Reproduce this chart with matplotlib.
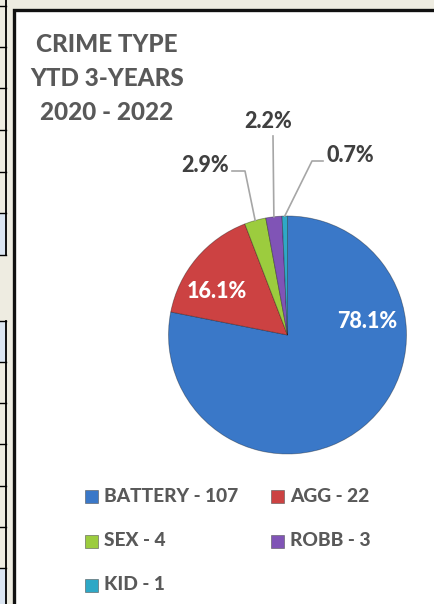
import numpy as np
import matplotlib
matplotlib.use("Agg")
import matplotlib.pyplot as plt
from matplotlib.patches import Rectangle

# dados
categorias = ["BATTERY", "AGG", "SEX", "ROBB", "KID"]
valores = [107, 22, 4, 3, 1]
cores = ["#3a78c8", "#cc4242", "#9ccc3e", "#8054b6", "#2ea8c6"]
titulo = "CRIME TYPE\nYTD 3-YEARS\n2020 - 2022"

plt.rcParams["font.family"] = ["Lato", "DejaVu Sans"]
PESO = 900

W, H = 434, 604
fig = plt.figure(figsize=(W / 100, H / 100), dpi=100, facecolor="#eeece1")

# eixo de fundo em pixels
bg = fig.add_axes([0, 0, 1, 1])
bg.set_xlim(0, W)
bg.set_ylim(H, 0)
bg.axis("off")

# fragmento da tabela a esquerda
for y0, y1 in [(213, 255), (321, 362), (568, 610)]:
    bg.add_patch(Rectangle((-2, y0), 8, y1 - y0, facecolor="#dbe5f1", edgecolor="none"))
bg.plot([6, 6], [0, 255], color="black", lw=1.3)
bg.plot([6, 6], [321, 604], color="black", lw=1.3)
for y in [6, 47, 88, 130, 172, 213, 255, 321, 362, 403, 444, 486, 527, 568]:
    bg.plot([-2, 6], [y, y], color="black", lw=1.0)

# area do grafico
bg.add_patch(Rectangle((14, 10), W, H, facecolor="white", edgecolor="#111111", lw=2.4))

# titulo
gris = "#595959"
for i, linha in enumerate(titulo.split("\n")):
    bg.text(107, 45 + i * 33.5, linha, ha="center", va="center", fontsize=17.5,
            color=gris, fontweight=PESO)

# legenda
leg_pos = [(85, 496), (271, 496), (85, 541), (271, 541), (85, 585)]
for (x, y), cat, val, cor in zip(leg_pos, categorias, valores, cores):
    bg.add_patch(Rectangle((x, y - 6.5), 13, 13, facecolor=cor, edgecolor="#555555", lw=0.4))
    bg.text(x + 19, y, f"{cat} - {val}", ha="left", va="center", fontsize=13.8,
            color=gris, fontweight=PESO)

# pizza
cx, cy, R = 287.5, 335, 119
ax = fig.add_axes([(cx - R) / W, (H - cy - R) / H, 2 * R / W, 2 * R / H])
wedges, _ = ax.pie(valores, colors=cores, startangle=90, counterclock=False,
                   wedgeprops=dict(edgecolor=(0, 0, 0, 0.35), linewidth=0.6))
ax.set_xlim(-1, 1)
ax.set_ylim(-1, 1)
ax.set_aspect("equal")
ax.axis("off")

total = sum(valores)
pcts = [v / total * 100 for v in valores]

def px(x, y):
    return (x - cx) / R, (cy - y) / R

# rotulos internos
for i, (x, y) in [(0, (367, 321)), (1, (217, 292))]:
    ax.text(*px(x, y), f"{pcts[i]:.1f}%", ha="center", va="center", fontsize=15.5,
            color="white", fontweight=PESO)

# rotulos externos com linhas guia
externos = [
    (2, (205, 165), [(232, 171), (245, 171)]),
    (3, (268, 122), [(273, 136)]),
    (4, (350, 155), [(323, 161), (312, 161)]),
]
for i, (x, y), pts in externos:
    w = wedges[i]
    ang = np.deg2rad((w.theta1 + w.theta2) / 2)
    xs = [px(a, b)[0] for a, b in pts] + [np.cos(ang)]
    ys = [px(a, b)[1] for a, b in pts] + [np.sin(ang)]
    ax.plot(xs, ys, color="#a6a6a6", lw=1.2, clip_on=False)
    ax.text(*px(x, y), f"{pcts[i]:.1f}%", ha="center", va="center", fontsize=15.5,
            color="#404040", fontweight=PESO, clip_on=False)

fig.savefig("out.png", dpi=100, facecolor=fig.get_facecolor())
